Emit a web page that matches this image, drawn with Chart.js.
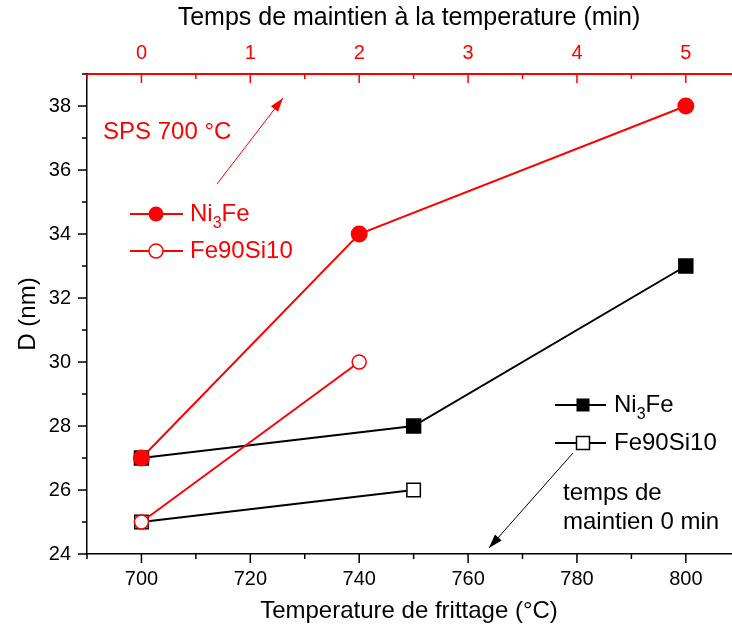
<!DOCTYPE html>
<html>
<head>
<meta charset="utf-8">
<script src="https://cdn.jsdelivr.net/npm/chart.js@4"></script>
<style>
  body { margin: 0; background: #fff; overflow: hidden; }
  canvas { display: block; }
</style>
</head>
<body>
<canvas id="chart" width="732" height="630"></canvas>
<script>
// tick labels
const tempTicks = [700, 720, 740, 760, 780, 800];
const timeTicks = [0, 1, 2, 3, 4, 5];
const dTicks = [24, 26, 28, 30, 32, 34, 36, 38];

// series against sintering temperature (bottom axis, black)
const tempNi3Fe = [700, 750, 800];
const dNi3Fe = [27, 28, 33];
const tempFeSi = [700, 750];
const dFeSi = [25, 26];

// series against holding time at SPS 700 C (top axis, red)
const timeNi3Fe = [0, 2, 5];
const dNi3FeSPS = [27, 34, 38];
const timeFeSi = [0, 2];
const dFeSiSPS = [25, 30];

const FONT = "'Liberation Sans', Arial, sans-serif";
const RED = "#ff0000";

const pts = (xs, ys) => xs.map((v, i) => ({ x: v, y: ys[i] }));

function line(ctx, x1, y1, x2, y2) {
  ctx.beginPath();
  ctx.moveTo(x1, y1);
  ctx.lineTo(x2, y2);
  ctx.stroke();
}

function arrow(ctx, x1, y1, x2, y2, color) {
  ctx.strokeStyle = color;
  ctx.fillStyle = color;
  ctx.lineWidth = 1;
  line(ctx, x1, y1, x2, y2);
  const a = Math.atan2(y2 - y1, x2 - x1);
  const len = 14, w = 4.5;
  ctx.beginPath();
  ctx.moveTo(x2, y2);
  ctx.lineTo(x2 - len * Math.cos(a) + w * Math.sin(a), y2 - len * Math.sin(a) - w * Math.cos(a));
  ctx.lineTo(x2 - len * Math.cos(a) - w * Math.sin(a), y2 - len * Math.sin(a) + w * Math.cos(a));
  ctx.closePath();
  ctx.fill();
}

// "Ni" + subscript 3 + "Fe"
function ni3fe(ctx, x, y) {
  ctx.font = "24px " + FONT;
  ctx.fillText("Ni", x, y);
  let w = ctx.measureText("Ni").width;
  ctx.font = "16px " + FONT;
  ctx.fillText("3", x + w, y + 10);
  w += ctx.measureText("3").width;
  ctx.font = "24px " + FONT;
  ctx.fillText("Fe", x + w, y);
}

// no label overhang padding, so the plot fills the canvas like the original
function fixPadding(s) {
  s.paddingLeft = 0;
  s.paddingRight = 0;
  s.paddingTop = 0;
  s.paddingBottom = 0;
}

const decorations = {
  id: "decorations",
  afterDraw(chart) {
    const ctx = chart.ctx;
    const { x, x2, y } = chart.scales;
    const area = chart.chartArea;
    ctx.save();
    ctx.lineWidth = 1.5;

    // bottom axis ticks (outward)
    ctx.strokeStyle = "#000";
    for (let v = 690; v <= x.max; v += 10) {
      const px = x.getPixelForValue(v);
      line(ctx, px, area.bottom, px, area.bottom + (tempTicks.includes(v) ? 9 : 5));
    }
    // left axis ticks (outward)
    for (let v = 24; v <= y.max; v += 1) {
      const py = y.getPixelForValue(v);
      line(ctx, area.left, py, area.left - (dTicks.includes(v) ? 9 : 5), py);
    }
    // top axis ticks (inward, red)
    ctx.strokeStyle = RED;
    for (let v = -0.5; v <= x2.max; v += 0.5) {
      const px = x2.getPixelForValue(v);
      line(ctx, px, area.top, px, area.top + (timeTicks.includes(v) ? 9 : 5));
    }

    ctx.textBaseline = "middle";
    ctx.textAlign = "left";

    // red legend
    ctx.strokeStyle = RED;
    ctx.fillStyle = RED;
    ctx.lineWidth = 2;
    line(ctx, 130, 214, 183, 214);
    line(ctx, 130, 251, 183, 251);
    ctx.beginPath();
    ctx.arc(156, 214, 7.5, 0, Math.PI * 2);
    ctx.fill();
    ctx.beginPath();
    ctx.arc(156, 251, 7, 0, Math.PI * 2);
    ctx.fillStyle = "#fff";
    ctx.fill();
    ctx.lineWidth = 1.5;
    ctx.stroke();
    ctx.fillStyle = RED;
    ni3fe(ctx, 190, 214);
    ctx.font = "24px " + FONT;
    ctx.fillText("Fe90Si10", 190, 251);
    ctx.fillText("SPS 700 \u00B0C", 103, 132);
    arrow(ctx, 217, 184, 283, 98, RED);

    // black legend
    ctx.strokeStyle = "#000";
    ctx.fillStyle = "#000";
    ctx.lineWidth = 2;
    line(ctx, 555, 405, 606, 405);
    line(ctx, 555, 443, 606, 443);
    ctx.fillRect(576.5, 398.5, 13, 13);
    ctx.fillStyle = "#fff";
    ctx.fillRect(576.5, 436.5, 13, 13);
    ctx.lineWidth = 1.5;
    ctx.strokeRect(576.5, 436.5, 13, 13);
    ctx.fillStyle = "#000";
    ni3fe(ctx, 614, 405);
    ctx.font = "24px " + FONT;
    ctx.fillText("Fe90Si10", 614, 443);
    ctx.fillText("temps de", 563, 493);
    ctx.fillText("maintien 0 min", 563, 522);
    arrow(ctx, 573, 453, 489, 548, "#000");

    ctx.restore();
  }
};

new Chart(document.getElementById("chart").getContext("2d"), {
  type: "scatter",
  data: {
    datasets: [
      {
        label: "Ni3Fe SPS",
        data: pts(timeNi3Fe, dNi3FeSPS),
        xAxisID: "x2",
        showLine: true,
        borderColor: RED,
        borderWidth: 2,
        pointStyle: "circle",
        pointRadius: 7.5,
        pointBackgroundColor: RED,
        pointBorderColor: RED,
      },
      {
        label: "Fe90Si10 SPS",
        data: pts(timeFeSi, dFeSiSPS),
        xAxisID: "x2",
        showLine: true,
        borderColor: RED,
        borderWidth: 2,
        pointStyle: "circle",
        pointRadius: 7,
        pointBorderWidth: 1.5,
        pointBackgroundColor: "#fff",
        pointBorderColor: RED,
      },
      {
        label: "Ni3Fe",
        data: pts(tempNi3Fe, dNi3Fe),
        xAxisID: "x",
        showLine: true,
        borderColor: "#000",
        borderWidth: 2,
        pointStyle: "rect",
        pointRadius: 9.5,
        pointBackgroundColor: "#000",
        pointBorderColor: "#000",
      },
      {
        label: "Fe90Si10",
        data: pts(tempFeSi, dFeSi),
        xAxisID: "x",
        showLine: true,
        borderColor: "#000",
        borderWidth: 2,
        pointStyle: "rect",
        pointRadius: 9.5,
        pointBorderWidth: 1.5,
        pointBackgroundColor: "#fff",
        pointBorderColor: "#000",
      },
    ],
  },
  options: {
    responsive: false,
    animation: false,
    layout: { autoPadding: false, padding: { right: 1 } },
    plugins: { legend: { display: false }, tooltip: { enabled: false } },
    scales: {
      x: {
        type: "linear",
        position: "bottom",
        min: 690,
        max: 808.3,
        afterBuildTicks: (s) => { s.ticks = tempTicks.map((v) => ({ value: v })); },
        afterFit: (s) => { s.height = 76; fixPadding(s); },
        grid: { display: false, drawTicks: false },
        border: { display: true, color: "#000", width: 1.5 },
        ticks: { color: "#000", padding: 13, maxRotation: 0, font: { family: FONT, size: 20 } },
        title: {
          display: true,
          text: "Temperature de frittage (\u00B0C)",
          color: "#000",
          padding: { bottom: 4 },
          font: { family: FONT, size: 24 },
        },
      },
      x2: {
        type: "linear",
        position: "top",
        min: -0.5,
        max: 5.415,
        afterBuildTicks: (s) => { s.ticks = timeTicks.map((v) => ({ value: v })); },
        afterFit: (s) => { s.height = 74; fixPadding(s); },
        grid: { display: false, drawTicks: false },
        border: { display: true, color: RED, width: 2 },
        ticks: { color: RED, padding: 9, maxRotation: 0, font: { family: FONT, size: 20 } },
        title: {
          display: true,
          text: "Temps de maintien \u00E0 la temperature (min)",
          color: "#000",
          padding: { top: 3 },
          font: { family: FONT, size: 25 },
        },
      },
      y: {
        type: "linear",
        position: "left",
        min: 24,
        max: 39,
        afterBuildTicks: (s) => { s.ticks = dTicks.map((v) => ({ value: v })); },
        afterFit: (s) => { s.width = 87; fixPadding(s); },
        grid: { display: false, drawTicks: false },
        border: { display: true, color: "#000", width: 1.5 },
        ticks: { color: "#000", padding: 16, font: { family: FONT, size: 20 } },
        title: {
          display: true,
          text: "D (nm)",
          color: "#000",
          padding: { top: 14 },
          font: { family: FONT, size: 24 },
        },
      },
    },
  },
  plugins: [decorations],
});
</script>
</body>
</html>
